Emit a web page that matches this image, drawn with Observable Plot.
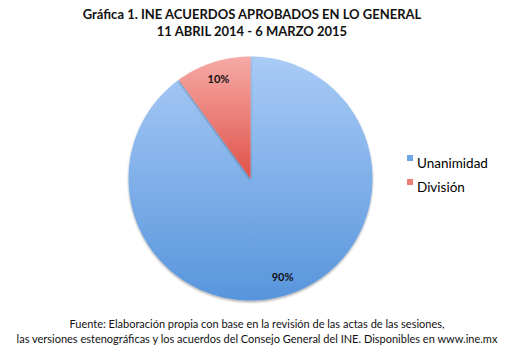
<!DOCTYPE html>
<html>
<head>
<meta charset="utf-8">
<script src="https://cdn.jsdelivr.net/npm/d3@7"></script>
<script src="https://cdn.jsdelivr.net/npm/@observablehq/plot@0.6"></script>
<style>
  body { margin: 0; background: #fff; width: 514px; height: 353px; position: relative; overflow: hidden; font-family: Lato, "Noto Sans", sans-serif; color: #111; }
  #title { position: absolute; left: 0; top: 6px; width: 504px; text-align: center; font-weight: bold; font-size: 13px; line-height: 17px; }
  #chart { position: absolute; left: 0; top: 42px; }
  #legend { position: absolute; left: 407px; top: 151px; font-size: 13.5px; line-height: 24px; color: #000; }
  #legend .sw { display: inline-block; width: 6px; height: 6px; margin-right: 4px; vertical-align: 7px; }
  #caption { position: absolute; left: 0; top: 316px; width: 514px; text-align: center; font-size: 11px; line-height: 15px; }
</style>
</head>
<body>
<div id="title">Gráfica 1. INE ACUERDOS APROBADOS EN LO GENERAL<br>11 ABRIL 2014 - 6 MARZO 2015</div>
<div id="chart"></div>
<div id="legend"></div>
<div id="caption">Fuente: Elaboración propia con base en la revisión de las actas de las sesiones,<br>las versiones estenográficas y los acuerdos del Consejo General del INE. Disponibles en www.ine.mx</div>
<script>
const categories = ["Unanimidad", "División"];
const values = [90, 10];
const labels = ["90%", "10%"];
const gradTop = ["#a9cbf6", "#f7aaa6"];
const gradBottom = ["#5895dc", "#df5249"];
const swatch = ["#6fa6e6", "#ec7d77"];

const W = 514, H = 268, R = 122, cx = 250, cy = 136;

const pie = d3.pie().sort(null).value(d => d.value);
const arcs = pie(categories.map((c, i) => ({cat: c, value: values[i], i})));

function slicePoints(a) {
  const pts = [{x: 0, y: 0}];
  const n = Math.max(4, Math.ceil((a.endAngle - a.startAngle) / (Math.PI / 180)));
  for (let k = 0; k <= n; k++) {
    const t = a.startAngle + (a.endAngle - a.startAngle) * k / n;
    pts.push({x: Math.sin(t), y: Math.cos(t)});
  }
  pts.push({x: 0, y: 0});
  return pts;
}

const labelData = arcs.map(a => {
  const m = (a.startAngle + a.endAngle) / 2;
  return {x: 0.85 * Math.sin(m), y: 0.85 * Math.cos(m), text: labels[a.data.i]};
});

const marks = arcs.map(a => Plot.line(slicePoints(a), {
  x: "x", y: "y", curve: "linear",
  fill: `url(#grad${a.data.i})`, stroke: "none"
}));
marks.push(Plot.text(labelData, {x: "x", y: "y", text: "text", fontSize: 11, fontWeight: "bold", fill: "#111"}));

const svg = Plot.plot({
  width: W, height: H,
  margin: 0,
  x: {domain: [-cx / R, (W - cx) / R], range: [0, W], axis: null},
  y: {domain: [-(H - cy) / R, cy / R], range: [H, 0], axis: null},
  style: {fontFamily: "Lato, 'Noto Sans', sans-serif", background: "transparent"},
  marks
});

const s = d3.select(svg);
const defs = s.insert("defs", ":first-child");
categories.forEach((c, i) => {
  const g = defs.append("linearGradient").attr("id", `grad${i}`).attr("x1", 0).attr("y1", 0).attr("x2", 0).attr("y2", 1);
  g.append("stop").attr("offset", "0%").attr("stop-color", gradTop[i]);
  g.append("stop").attr("offset", "100%").attr("stop-color", gradBottom[i]);
});
const f = defs.append("filter").attr("id", "shadow").attr("x", "-10%").attr("y", "-10%").attr("width", "120%").attr("height", "120%");
f.append("feDropShadow").attr("dx", 0).attr("dy", 1.5).attr("stdDeviation", 1.2).attr("flood-color", "#000").attr("flood-opacity", 0.35);
s.selectAll('g[aria-label="line"]').attr("filter", "url(#shadow)");

document.getElementById("chart").appendChild(svg);

const legend = d3.select("#legend");
categories.forEach((c, i) => {
  const row = legend.append("div");
  row.append("span").attr("class", "sw").style("background", swatch[i]);
  row.append("span").text(c);
});
</script>
</body>
</html>
